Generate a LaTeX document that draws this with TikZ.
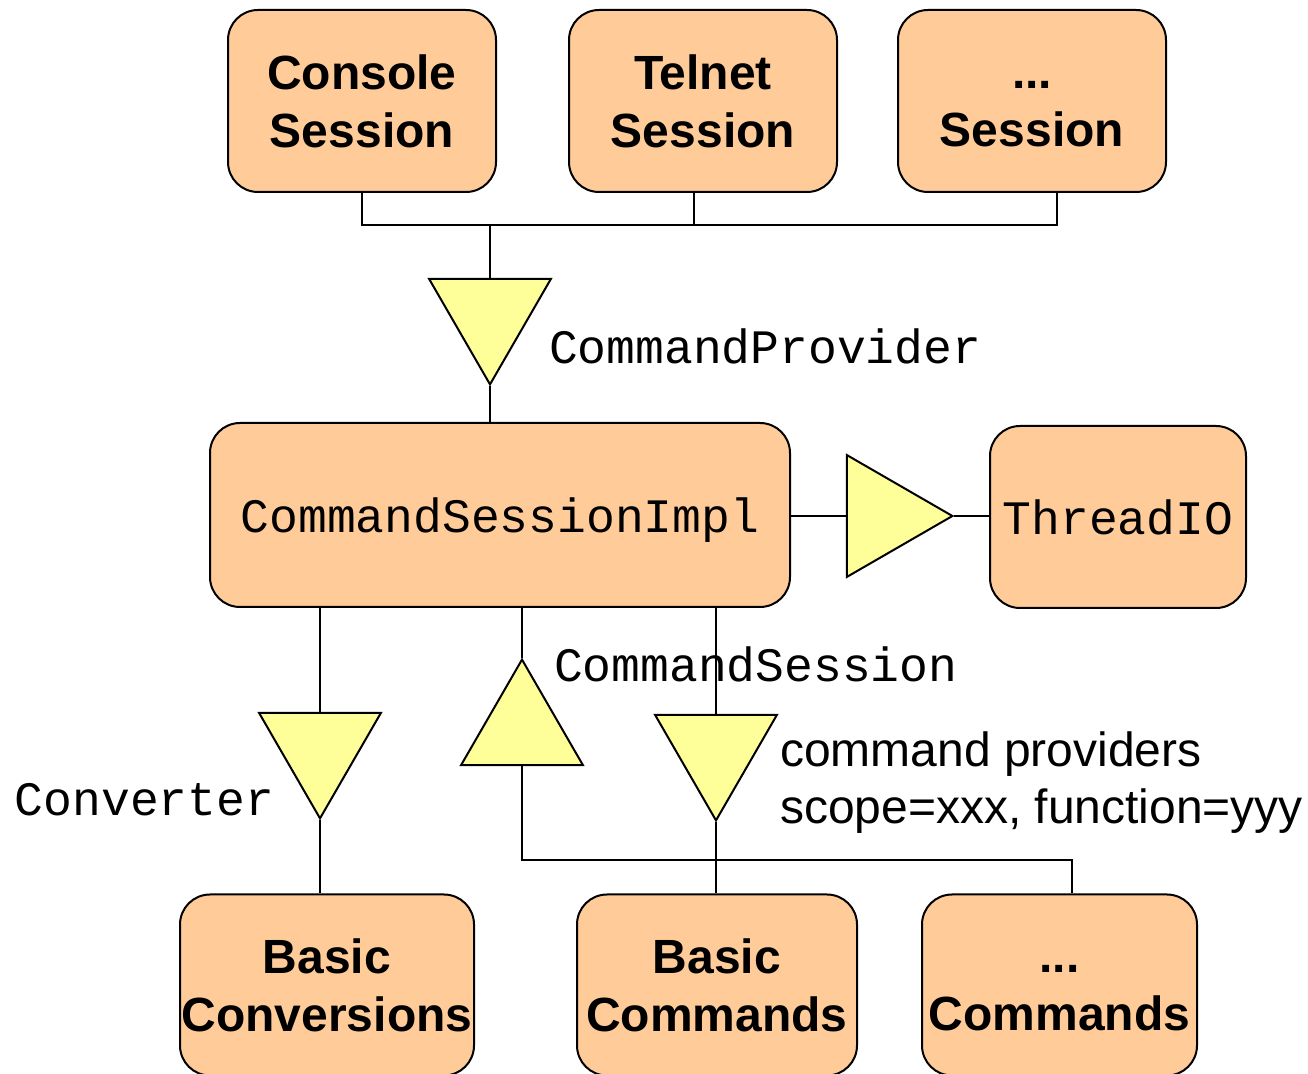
\documentclass[tikz,border=0pt]{standalone}
\usepackage{fontspec}
\setsansfont{Liberation Sans}
\setmonofont{Liberation Mono}
\usetikzlibrary{shapes.geometric}
\definecolor{peach}{HTML}{FFCC99}
\definecolor{lemon}{HTML}{FFFF99}

\begin{document}
\begin{tikzpicture}[x=0.5pt,y=-0.5pt,line width=1pt,
  box/.style={draw,fill=peach,rounded corners=15pt,inner sep=0pt,minimum width=134pt,minimum height=91pt,align=center,font=\fontsize{24}{29}\selectfont\sffamily\bfseries},
  code/.style={inner sep=0pt,font=\fontsize{24}{29}\selectfont\ttfamily},
  iface/.style={draw,fill=lemon,regular polygon,regular polygon sides=3,minimum size=70.4pt,inner sep=0pt},
  down/.style={regular polygon rotate=180}]
\useasboundingbox (0,0) rectangle (1308,1074);
% sessions on top, joined by one bus
\node[box] (console) at (362,101) {Console\\Session};
\node[box] (telnet) at (703,101) {Telnet\\Session};
\node[box] (othersess) at (1032,101) {\vphantom{C}...\\Session};
\coordinate (bus) at (490,225);
\draw (console.south) |- (bus);
\draw ([xshift=-4.5pt]telnet.south) |- (bus);
\draw ([xshift=12.5pt]othersess.south) |- (bus);

\node[iface,down] (provider) at (490,314) {};
\node[code,anchor=west] (providerlbl) at (548,346) {CommandProvider};
\draw (bus) -- (provider.north);

% the session itself
\node[box,minimum width=290pt,minimum height=92pt,code,text depth=0pt] (impl) at (500,515) {CommandSessionImpl};
\draw (provider.south) -- (provider.south |- impl.north);

\node[iface,regular polygon rotate=-90] (threadif) at (882,516) {};
\node[box,minimum width=128pt,code] (threadio) at (1118,517) {ThreadIO};
\draw (threadif.west -| impl.east) -- (threadif.west);
\draw (threadif.east) -- (threadif.east -| threadio.west);

% services below
\node[iface,down] (converter) at (320,748) {};
\node[iface] (session) at (522,730) {};
\node[iface,down] (provides) at (716,750) {};
\node[code,anchor=west] (converterlbl) at (14,800) {Converter};
\node[code,anchor=west] (sessionlbl) at (553,664) {CommandSession};
\node[anchor=west,inner sep=0pt,align=left,font=\fontsize{24}{28.5}\selectfont\sffamily] (scopelbl) at (779,783) {command providers\\scope=xxx, function=yyy};

\node[box,minimum width=147pt,minimum height=90.5pt] (basconv) at (327,985) {Basic\\Conversions};
\node[box,minimum width=140pt,minimum height=90.5pt] (bascmd) at (717,985) {Basic\\Commands};
\node[box,minimum width=137.5pt,minimum height=90.5pt] (othercmd) at (1059.5,985) {\vphantom{C}...\\Commands};

\draw (converter.north |- impl.south) -- (converter.north);
\draw (converter.south) -- (converter.south |- basconv.north);
\draw (session.north |- impl.south) -- (session.north);
\coordinate (cmdbus) at (1072,860);
\draw (session.south) |- (cmdbus) -- (cmdbus |- othercmd.north);
\draw (provides.north |- impl.south) -- (provides.north);
\draw (provides.south) -- (provides.south |- bascmd.north);
\end{tikzpicture}
\end{document}
